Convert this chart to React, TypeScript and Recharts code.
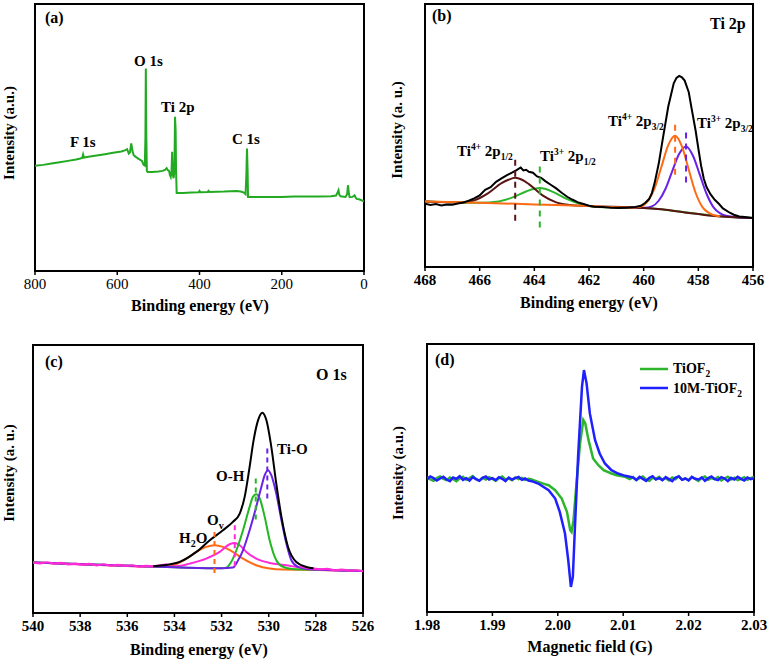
import React from 'react';
import { LineChart, Line, XAxis, YAxis, ReferenceArea } from 'recharts';

type Pt = [number, number];
type Mark = [number, number, number];

const SERIF = '"Liberation Serif", "Times New Roman", serif';

// (a) survey spectrum: [binding energy, intensity]
const A_TICKS = [0, 200, 400, 600, 800];
const A_SURVEY: Pt[] = [
  [800, 315], [780, 318], [760, 322], [740, 326], [720, 330], [700, 334], [690, 337], [685, 339],
  [683, 349], [681, 340], [670, 342], [650, 346], [630, 350], [610, 354], [590, 358], [580, 362],
  [576, 365], [572, 352], [569, 356], [566, 382], [563, 360], [560, 347], [555, 342], [548, 336],
  [540, 330], [536, 318], [533, 316], [531.5, 400], [530.5, 607], [529.5, 420], [528, 300], [526, 297],
  [515, 297], [500, 298], [490, 300], [484, 303], [480, 308], [477, 302], [474, 300], [472, 288],
  [470, 282], [468, 300], [466.5, 357], [465, 290], [463, 278], [461, 300], [459.5, 462], [458, 420],
  [457, 300], [455.5, 234], [440, 234], [420, 235], [402, 236], [400, 240], [398, 236], [380, 237],
  [378, 240], [376, 237], [340, 238], [310, 240], [300, 238], [292, 235], [288, 230], [286, 290],
  [284.5, 367], [283, 300], [282, 222], [260, 222], [230, 222], [200, 222], [170, 223], [140, 223],
  [110, 223], [80, 224], [68, 226], [64, 236], [62, 242], [60, 228], [57, 224], [45, 222], [41, 230],
  [39, 257], [37, 235], [35, 221], [28, 222], [23, 227], [21, 222], [18, 216], [12, 215], [6, 212],
  [3, 210], [0, 208],
];

// (b) Ti 2p
const B_TICKS = [456, 458, 460, 462, 464, 466, 468];
const B_RAW: Pt[] = [
  [468, 190], [467.8, 186], [467.6, 189], [467.4, 185], [467.2, 188], [467, 187], [466.8, 191],
  [466.6, 194], [466.4, 199], [466.2, 206], [466, 215], [465.8, 232], [465.6, 240], [465.4, 256],
  [465.2, 266], [465, 276], [464.8, 284], [464.65, 291], [464.5, 299], [464.4, 290], [464.3, 292],
  [464.2, 286], [464.05, 283], [463.9, 272], [463.75, 268], [463.6, 258], [463.4, 247], [463.2, 236],
  [463, 223], [462.8, 211], [462.6, 202], [462.4, 194], [462.2, 189], [462, 184], [461.8, 181],
  [461.5, 180], [461.2, 178], [460.9, 177], [460.6, 178], [460.3, 180], [460.1, 184], [459.95, 192],
  [459.8, 204], [459.7, 222], [459.6, 252], [459.45, 310], [459.3, 385], [459.1, 482], [458.9, 552],
  [458.8, 568], [458.7, 574], [458.6, 570], [458.5, 560], [458.35, 525], [458.25, 478], [458.1, 410],
  [458, 356], [457.9, 305], [457.8, 265], [457.7, 240], [457.55, 218], [457.4, 202], [457.25, 190],
  [457.1, 176], [457, 171], [456.85, 163], [456.7, 157], [456.5, 152], [456.3, 150], [456, 147],
];
const B_TI4_12: Pt[] = [
  [468, 197], [466.6, 194], [466.2, 200], [465.7, 221], [465.2, 252], [464.95, 262], [464.7, 268],
  [464.45, 262], [464.2, 249], [463.7, 215], [463.2, 194], [462.7, 186], [462, 183], [460, 177],
  [459.5, 174], [459, 170], [458.5, 164], [458, 159], [457.5, 154], [457, 151], [456.5, 149], [456, 147],
];
const B_TI3_12: Pt[] = [
  [468, 197], [466, 193], [465.3, 197], [464.8, 209], [464.3, 227], [463.8, 237], [463.3, 225],
  [462.8, 204], [462.3, 189], [461.8, 181], [461, 179], [460, 177], [459, 170], [458, 159], [457, 151], [456, 147],
];
const B_TI4_32: Pt[] = [
  [468, 197], [466, 193], [464, 188], [462, 183], [460.5, 178], [460.1, 182], [459.85, 198], [459.6, 236],
  [459.35, 301], [459.1, 366], [458.85, 394], [458.6, 362], [458.35, 292], [458.1, 223], [457.85, 180],
  [457.6, 162], [457.35, 154], [457.2, 152],
];
const B_TI3_32: Pt[] = [
  [460.5, 178], [459.95, 178], [459.7, 182], [459.45, 199], [459.2, 235], [458.95, 289], [458.7, 340],
  [458.45, 362], [458.2, 335], [457.95, 278], [457.7, 220], [457.45, 180], [457.2, 161], [456.95, 153],
  [456.5, 149], [456, 147],
];
// peak markers: [position, top, bottom]
const B_MARKS: Mark[] = [[464.7, 322, 137], [463.8, 302, 117], [458.85, 427, 267], [458.45, 404, 250]];

// (c) O 1s
const C_TICKS = [526, 528, 530, 532, 534, 536, 538, 540];
const C_RAW_L: Pt[] = [
  [540, 151], [539.7, 149], [539.4, 152], [539.1, 148], [538.8, 150], [538.5, 146], [538.2, 148],
  [537.9, 145], [537.6, 147], [537.3, 143], [537, 146], [536.7, 142], [536.4, 144], [536.1, 141],
  [535.8, 143], [535.5, 139], [535.2, 141], [534.9, 140], [534.6, 143], [534.3, 146],
];
const C_RAW_R: Pt[] = [
  [528.7, 140], [528.4, 135], [528.1, 133], [527.8, 131], [527.5, 132], [527.2, 128], [526.9, 130],
  [526.6, 127], [526.3, 128], [526, 125],
];
const C_H2O: Pt[] = [
  [540, 151], [536, 141], [535, 139], [534.5, 139], [534.06, 143], [533.49, 163], [533.07, 183],
  [532.65, 198], [532.3, 203], [531.94, 198], [531.52, 183], [531.09, 163], [530.53, 143], [529.96, 133],
  [529.39, 130], [528, 129], [526, 126],
];
const C_OV: Pt[] = [
  [540, 151], [536, 141], [534.5, 139], [533.8, 141], [533.35, 148], [532.65, 163], [532.08, 183],
  [531.66, 206], [531.44, 210], [531.23, 203], [530.95, 183], [530.53, 163], [529.96, 150], [529.25, 143],
  [528.5, 134], [528, 130], [526, 126],
];
const C_OH: Pt[] = [
  [540, 151], [534, 137], [532, 134], [531.8, 136], [531.6, 152], [531.37, 188], [531.09, 248],
  [530.81, 318], [530.67, 348], [530.53, 356], [530.38, 343], [530.17, 288], [529.96, 218], [529.68, 158],
  [529.39, 138], [529, 132], [528, 130], [526, 126],
];
const C_TIO: Pt[] = [
  [540, 151], [534, 137], [532, 134], [531.52, 136], [531.3, 158], [531.09, 188], [530.81, 248],
  [530.53, 318], [530.31, 378], [530.17, 413], [530.03, 428], [529.89, 413], [529.68, 358], [529.46, 278],
  [529.25, 208], [529.04, 158], [528.76, 138], [528.4, 132], [528, 130], [526, 126],
];
const C_FIT: Pt[] = [
  [534.9, 140], [534.48, 143], [533.78, 153], [533.07, 183], [532.5, 218], [531.94, 248], [531.52, 273],
  [531.23, 298], [531.02, 348], [530.81, 438], [530.64, 518], [530.45, 578], [530.27, 600], [530.1, 578],
  [529.89, 498], [529.68, 388], [529.46, 288], [529.18, 198], [528.83, 153], [528.4, 138], [528.1, 134],
];
const C_MARKS: Mark[] = [[532.3, 243, 120], [531.44, 263, 133], [530.55, 403, 278], [530.06, 493, 343]];

// (d) EPR
const D_TICKS = [1.98, 1.99, 2.0, 2.01, 2.02, 2.03];
const D_TIOF2: Pt[] = [
  [1.98, 404], [1.9805, 397], [1.981, 393], [1.9815, 401], [1.982, 406], [1.9825, 399], [1.983, 395],
  [1.9835, 403], [1.984, 398], [1.9845, 392], [1.985, 400], [1.9855, 405], [1.986, 396], [1.9865, 401],
  [1.987, 407], [1.9875, 398], [1.988, 394], [1.9885, 402], [1.989, 397], [1.9895, 404], [1.99, 399],
  [1.9905, 393], [1.991, 401], [1.9915, 406], [1.992, 397], [1.9925, 400], [1.993, 395], [1.9935, 403],
  [1.994, 398], [1.9945, 402], [1.995, 396], [1.9955, 399], [1.996, 397],
  [1.997, 390], [1.998, 383], [1.9986, 380], [1.9996, 365], [2.0006, 340], [2.0014, 300], [2.0019, 245],
  [2.0021, 240], [2.0024, 275], [2.0029, 395], [2.0034, 505], [2.0039, 575], [2.0042, 565], [2.0047, 515],
  [2.0054, 460], [2.0062, 440], [2.007, 425], [2.0082, 415], [2.009, 410], [2.0103, 405],
  [2.011, 398], [2.0115, 404], [2.012, 395], [2.0125, 401], [2.013, 406], [2.0135, 397], [2.014, 393],
  [2.0145, 402], [2.015, 399], [2.0155, 405], [2.016, 396], [2.0165, 401], [2.017, 394], [2.0175, 403],
  [2.018, 398], [2.0185, 407], [2.019, 397], [2.0195, 400], [2.02, 395], [2.0205, 404], [2.021, 399],
  [2.0215, 393], [2.022, 402], [2.0225, 406], [2.023, 396], [2.0235, 401], [2.024, 398], [2.0245, 404],
  [2.025, 394], [2.0255, 400], [2.026, 405], [2.0265, 397], [2.027, 402], [2.0275, 395], [2.028, 399],
  [2.0285, 404], [2.029, 396], [2.0295, 401], [2.03, 405],
];
const D_10M: Pt[] = [
  [1.98, 398], [1.9805, 406], [1.981, 401], [1.9815, 394], [1.982, 400], [1.9825, 405], [1.983, 397],
  [1.9835, 392], [1.984, 403], [1.9845, 399], [1.985, 407], [1.9855, 396], [1.986, 401], [1.9865, 394],
  [1.987, 404], [1.9875, 398], [1.988, 393], [1.9885, 402], [1.989, 406], [1.9895, 397], [1.99, 401],
  [1.9905, 395], [1.991, 404], [1.9915, 399], [1.992, 392], [1.9925, 403], [1.993, 397], [1.9935, 401],
  [1.994, 405], [1.9945, 396], [1.995, 400], [1.9955, 394], [1.996, 392],
  [1.997, 385], [1.9986, 365], [1.9996, 340], [2.0003, 300], [2.0011, 235], [2.0016, 155], [2.002, 75],
  [2.0023, 105], [2.0026, 245], [2.0031, 465], [2.0037, 675], [2.004, 725], [2.0044, 685], [2.0049, 595],
  [2.0057, 515], [2.0064, 475], [2.0072, 445], [2.0082, 425], [2.0092, 415], [2.0103, 408],
  [2.0115, 403], [2.012, 396], [2.0125, 405], [2.013, 399], [2.0135, 393], [2.014, 402], [2.0145, 407],
  [2.015, 397], [2.0155, 401], [2.016, 395], [2.0165, 404], [2.017, 398], [2.0175, 392], [2.018, 403],
  [2.0185, 406], [2.019, 396], [2.0195, 400], [2.02, 394], [2.0205, 405], [2.021, 399], [2.0215, 397],
  [2.022, 403], [2.0225, 393], [2.023, 401], [2.0235, 406], [2.024, 398], [2.0245, 395], [2.025, 404],
  [2.0255, 400], [2.026, 392], [2.0265, 402], [2.027, 397], [2.0275, 405], [2.028, 399], [2.0285, 394],
  [2.029, 403], [2.0295, 398], [2.03, 401],
];

const GREEN = '#2db52d';
const ORANGE = '#ff6a13';
const PURPLE = '#6a22e6';
const BROWN = '#5a1414';
const MAGENTA = '#ff2ad8';
const BLUE = '#1f1fff';

const rows = (pts: Pt[]) => pts.map(([x, y]) => ({ x, y }));

const curve = (key: string, pts: Pt[], color: string, width = 2, type: 'linear' | 'monotone' = 'linear') => (
  <Line
    key={key}
    data={rows(pts)}
    dataKey="y"
    type={type}
    stroke={color}
    strokeWidth={width}
    dot={false}
    isAnimationActive={false}
  />
);

const marker = (key: string, m: Mark, color: string, dash: string) => (
  <Line
    key={key}
    data={[{ x: m[0], y: m[1] }, { x: m[0], y: m[2] }]}
    dataKey="y"
    stroke={color}
    strokeWidth={2}
    strokeDasharray={dash}
    dot={false}
    isAnimationActive={false}
  />
);

interface PanelProps {
  left: number;
  top: number;
  width: number;
  height: number;
  margin: { left: number; right: number; top: number; bottom: number };
  domain: [number, number];
  ticks: number[];
  reversed?: boolean;
  yMax: number;
  bold?: boolean;
  fmt?: (v: number) => string;
  children: React.ReactNode;
}

function Panel({ left, top, width, height, margin, domain, ticks, reversed, yMax, bold, fmt, children }: PanelProps) {
  return (
    <div style={{ position: 'absolute', left, top }}>
      <LineChart width={width} height={height} margin={margin}>
        <XAxis
          type="number"
          dataKey="x"
          domain={domain}
          ticks={ticks}
          interval={0}
          reversed={reversed}
          allowDataOverflow
          height={30}
          tickSize={4}
          tickMargin={3}
          tickFormatter={fmt}
          tick={{ fontSize: 15, fill: '#000', fontFamily: SERIF, fontWeight: bold ? 700 : 400 }}
          tickLine={{ stroke: '#000', strokeWidth: 1.5 }}
          axisLine={{ stroke: '#000', strokeWidth: 2 }}
        />
        <YAxis type="number" domain={[0, yMax]} hide allowDataOverflow />
        {children}
        <ReferenceArea x1={domain[0]} x2={domain[1]} y1={0} y2={yMax} fill="none" stroke="#000" strokeWidth={2} />
      </LineChart>
    </div>
  );
}

const txt = { fontFamily: SERIF, fontWeight: 700, fill: '#000' } as const;

function TiLabel({ x, y, ox, sub }: { x: number; y: number; ox: string; sub: string }) {
  return (
    <text x={x} y={y} fontSize={15} {...txt}>
      Ti<tspan dy={-6} fontSize={9.5}>{ox}</tspan>
      <tspan dy={6}> 2p</tspan>
      <tspan dy={4} fontSize={9.5}>{sub}</tspan>
    </text>
  );
}

export default function App() {
  return (
    <div style={{ position: 'absolute', left: 0, top: 0, width: 769, height: 661, background: '#fff' }}>
      <Panel left={0} top={0} width={385} height={330} margin={{ left: 35, right: 21, top: 4, bottom: 29 }}
        domain={[0, 800]} ticks={A_TICKS} reversed yMax={800}>
        {[curve('survey', A_SURVEY, '#22aa22', 2)]}
      </Panel>

      <Panel left={385} top={0} width={384} height={330} margin={{ left: 40, right: 16, top: 4, bottom: 33 }}
        domain={[456, 468]} ticks={B_TICKS} reversed yMax={790} bold>
        {[
          curve('t3-12', B_TI3_12, GREEN, 2, 'monotone'),
          curve('t3-32', B_TI3_32, PURPLE, 2, 'monotone'),
          curve('t4-12', B_TI4_12, BROWN, 2, 'monotone'),
          curve('t4-32', B_TI4_32, ORANGE, 2, 'monotone'),
          curve('raw', B_RAW, '#000', 2),
          marker('m1', B_MARKS[0], BROWN, '6 5'),
          marker('m2', B_MARKS[1], GREEN, '6 5'),
          marker('m3', B_MARKS[2], ORANGE, '6 5'),
          marker('m4', B_MARKS[3], PURPLE, '6 5'),
        ]}
      </Panel>

      <Panel left={0} top={330} width={385} height={331} margin={{ left: 33, right: 22, top: 15, bottom: 18 }}
        domain={[526, 540]} ticks={C_TICKS} reversed yMax={803} bold>
        {[
          curve('h2o', C_H2O, ORANGE, 2, 'monotone'),
          curve('ov', C_OV, MAGENTA, 2, 'monotone'),
          curve('oh', C_OH, '#22b822', 2, 'monotone'),
          curve('tio', C_TIO, PURPLE, 2, 'monotone'),
          curve('rawl', C_RAW_L, MAGENTA, 2.2),
          curve('rawr', C_RAW_R, MAGENTA, 2.2),
          curve('fit', C_FIT, '#000', 2, 'monotone'),
          marker('c1', C_MARKS[0], ORANGE, '5 4'),
          marker('c2', C_MARKS[1], MAGENTA, '5 4'),
          marker('c3', C_MARKS[2], '#22b822', '5 4'),
          marker('c4', C_MARKS[3], PURPLE, '5 4'),
        ]}
      </Panel>

      <Panel left={385} top={330} width={384} height={331} margin={{ left: 42, right: 15, top: 14, bottom: 19 }}
        domain={[1.98, 2.03]} ticks={D_TICKS} yMax={803} bold fmt={(v) => v.toFixed(2)}>
        {[curve('tiof2', D_TIOF2, GREEN, 2.5), curve('10m', D_10M, BLUE, 2.5)]}
      </Panel>

      <svg width={769} height={661} style={{ position: 'absolute', left: 0, top: 0, pointerEvents: 'none' }}>
        {/* (a) */}
        <text x={45} y={23} fontSize={16} {...txt}>(a)</text>
        <text x={134} y={66} fontSize={15} {...txt}>O 1s</text>
        <text x={161} y={112} fontSize={15} {...txt}>Ti 2p</text>
        <text x={70} y={147} fontSize={15} {...txt}>F 1s</text>
        <text x={232} y={144} fontSize={15} {...txt}>C 1s</text>
        <text x={200} y={311} fontSize={16} textAnchor="middle" {...txt}>Binding energy (eV)</text>
        <text transform="translate(14,133) rotate(-90)" fontSize={15} textAnchor="middle" {...txt}>Intensity (a.u.)</text>

        {/* (b) */}
        <text x={432} y={21} fontSize={16} {...txt}>(b)</text>
        <text x={710} y={29} fontSize={16} {...txt}>Ti 2p</text>
        <TiLabel x={457} y={156} ox="4+" sub="1/2" />
        <TiLabel x={540} y={161} ox="3+" sub="1/2" />
        <TiLabel x={608} y={126} ox="4+" sub="3/2" />
        <TiLabel x={697} y={128} ox="3+" sub="3/2" />
        <text x={589} y={308} fontSize={16} textAnchor="middle" {...txt}>Binding energy (eV)</text>
        <text transform="translate(402,130) rotate(-90)" fontSize={15} textAnchor="middle" {...txt}>Intensity (a. u.)</text>

        {/* (c) */}
        <text x={45} y={367} fontSize={16} {...txt}>(c)</text>
        <text x={316} y={380} fontSize={16} {...txt}>O 1s</text>
        <text x={277} y={454} fontSize={15} {...txt}>Ti-O</text>
        <text x={216} y={481} fontSize={15} {...txt}>O-H</text>
        <text x={207} y={525} fontSize={15} {...txt}>O<tspan dy={4} fontSize={10}>v</tspan></text>
        <text x={179} y={543} fontSize={15} {...txt}>H<tspan dy={4} fontSize={10}>2</tspan><tspan dy={-4}>O</tspan></text>
        <text x={199} y={655} fontSize={16} textAnchor="middle" {...txt}>Binding energy (eV)</text>
        <text transform="translate(14,473) rotate(-90)" fontSize={15} textAnchor="middle" {...txt}>Intensity (a. u.)</text>

        {/* (d) */}
        <text x={435} y={365} fontSize={16} {...txt}>(d)</text>
        <line x1={640} x2={668} y1={369} y2={369} stroke={GREEN} strokeWidth={2.5} />
        <text x={673} y={373} fontSize={14} {...txt}>TiOF<tspan dy={4} fontSize={9.5}>2</tspan></text>
        <line x1={640} x2={668} y1={388} y2={388} stroke={BLUE} strokeWidth={2.5} />
        <text x={673} y={393} fontSize={14} {...txt}>10M-TiOF<tspan dy={4} fontSize={9.5}>2</tspan></text>
        <text x={590} y={652} fontSize={16} textAnchor="middle" {...txt}>Magnetic field (G)</text>
        <text transform="translate(403,473) rotate(-90)" fontSize={15} textAnchor="middle" {...txt}>Intensity (a.u.)</text>
      </svg>
    </div>
  );
}
